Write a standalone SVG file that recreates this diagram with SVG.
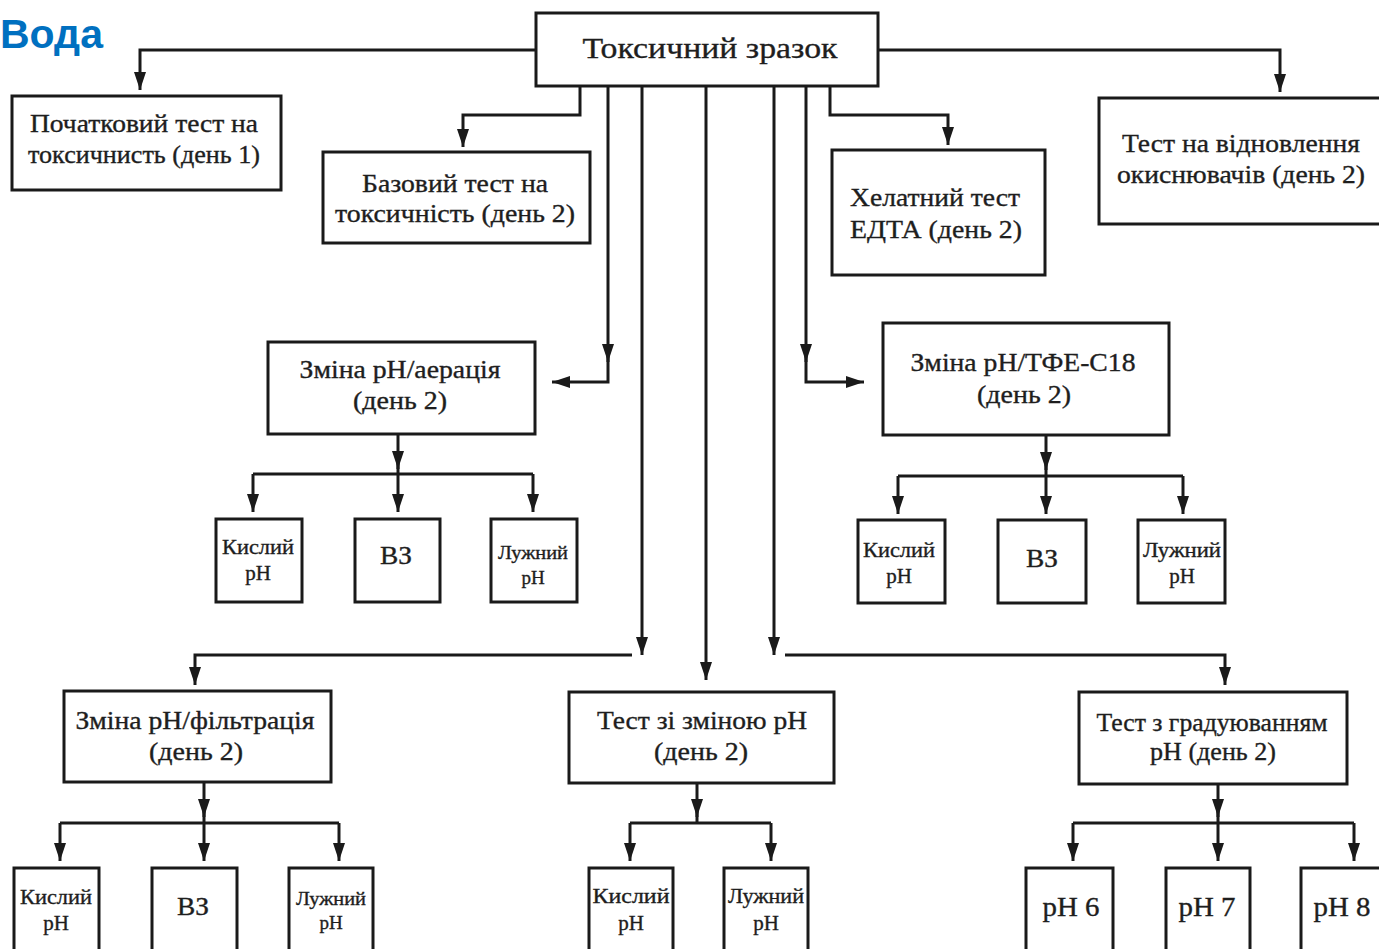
<svg xmlns="http://www.w3.org/2000/svg" width="1379" height="949" viewBox="0 0 1379 949">
<defs>
<marker id="a" viewBox="0 0 18 12" markerWidth="18" markerHeight="12" refX="18" refY="6" orient="auto" markerUnits="userSpaceOnUse">
<path d="M0,0 L18,6 L0,12 z" fill="#1a1a1a"/>
</marker>
<style>
.b{fill:#fff;stroke:#1a1a1a;stroke-width:3}
.t{font-family:"Liberation Serif","Times New Roman",serif;fill:#1e1e1e;stroke:#1e1e1e;stroke-width:0.35;text-anchor:middle}
.c path{fill:none;stroke:#1a1a1a;stroke-width:3}
.c .ar{marker-end:url(#a)}
</style>
</defs>
<rect width="1379" height="949" fill="#fff"/>
<text x="0" y="48" font-family="Liberation Sans, Arial, sans-serif" font-weight="bold" font-size="41" fill="#0070C0">Вода</text>

<g class="c" id="connectors">
<path class="ar" d="M536,50 H140 V90"/>
<path class="ar" d="M878,50 H1280 V92"/>
<path class="ar" d="M580,86 V115 H463 V147"/>
<path class="ar" d="M830,86 V115 H948 V145"/>
<path class="ar" d="M608,86 V362"/>
<path class="ar" d="M608,355 V382 H552"/>
<path class="ar" d="M806,86 V362"/>
<path class="ar" d="M806,355 V382 H864"/>
<path class="ar" d="M642,86 V655"/>
<path class="ar" d="M706,86 V680"/>
<path class="ar" d="M774,86 V655"/>
<path class="ar" d="M632,655 H195 V685"/>
<path class="ar" d="M785,655 H1225 V685"/>
<path class="ar" d="M398,434 V469"/>
<path d="M398,460 V474"/>
<path d="M253,474 H533"/>
<path class="ar" d="M253,474 V512"/>
<path class="ar" d="M398,474 V512"/>
<path class="ar" d="M533,474 V512"/>
<path class="ar" d="M1046,435 V470"/>
<path d="M1046,460 V476"/>
<path d="M898,476 H1183"/>
<path class="ar" d="M898,476 V514"/>
<path class="ar" d="M1046,476 V514"/>
<path class="ar" d="M1183,476 V514"/>
<path class="ar" d="M204,782 V817"/>
<path d="M204,810 V823"/>
<path d="M60,823 H339"/>
<path class="ar" d="M60,823 V861"/>
<path class="ar" d="M204,823 V861"/>
<path class="ar" d="M339,823 V861"/>
<path class="ar" d="M697,783 V817"/>
<path d="M697,810 V823"/>
<path d="M630,823 H771"/>
<path class="ar" d="M630,823 V861"/>
<path class="ar" d="M771,823 V861"/>
<path class="ar" d="M1218,784 V817"/>
<path d="M1218,810 V823"/>
<path d="M1073,823 H1354"/>
<path class="ar" d="M1073,823 V861"/>
<path class="ar" d="M1218,823 V861"/>
<path class="ar" d="M1354,823 V861"/>
</g>

<g id="n-main"><rect class="b" x="536" y="13" width="342" height="73"/><text class="t" x="710" y="58" font-size="30" textLength="255" lengthAdjust="spacingAndGlyphs">Токсичний зразок</text></g>
<g id="n-initial"><rect class="b" x="12" y="96" width="269" height="94"/><text class="t" x="144" y="132" font-size="25" textLength="228" lengthAdjust="spacingAndGlyphs">Початковий тест на</text><text class="t" x="144" y="163" font-size="25" textLength="232" lengthAdjust="spacingAndGlyphs">токсичнисть (день 1)</text></g>
<g id="n-base"><rect class="b" x="323" y="152" width="267" height="91"/><text class="t" x="455" y="192" font-size="25" textLength="186" lengthAdjust="spacingAndGlyphs">Базовий тест на</text><text class="t" x="455" y="222" font-size="25" textLength="240" lengthAdjust="spacingAndGlyphs">токсичність (день 2)</text></g>
<g id="n-edta"><rect class="b" x="832" y="150" width="213" height="125"/><text class="t" x="935" y="206" font-size="26" textLength="170" lengthAdjust="spacingAndGlyphs">Хелатний тест</text><text class="t" x="936" y="238" font-size="26" textLength="172" lengthAdjust="spacingAndGlyphs">ЕДТА (день 2)</text></g>
<g id="n-oxid"><rect class="b" x="1099" y="98" width="290" height="126"/><text class="t" x="1241" y="152" font-size="25" textLength="238" lengthAdjust="spacingAndGlyphs">Тест на відновлення</text><text class="t" x="1241" y="183" font-size="25" textLength="248" lengthAdjust="spacingAndGlyphs">окиснювачів (день 2)</text></g>
<g id="n-aer"><rect class="b" x="268" y="342" width="267" height="92"/><text class="t" x="400" y="378" font-size="25" textLength="201" lengthAdjust="spacingAndGlyphs">Зміна рН/аерація</text><text class="t" x="400" y="409" font-size="25" textLength="94" lengthAdjust="spacingAndGlyphs">(день 2)</text></g>
<g id="n-tfe"><rect class="b" x="883" y="323" width="286" height="112"/><text class="t" x="1023" y="371" font-size="26" textLength="225" lengthAdjust="spacingAndGlyphs">Зміна рН/ТФЕ-C18</text><text class="t" x="1024" y="403" font-size="26" textLength="94" lengthAdjust="spacingAndGlyphs">(день 2)</text></g>
<g id="n-aer-acid"><rect class="b" x="216" y="519" width="86" height="83"/><text class="t" x="258" y="554" font-size="21" textLength="72" lengthAdjust="spacingAndGlyphs">Кислий</text><text class="t" x="258" y="580" font-size="21">рН</text></g>
<g id="n-aer-vz"><rect class="b" x="355" y="519" width="85" height="83"/><text class="t" x="396" y="564" font-size="26" textLength="32" lengthAdjust="spacingAndGlyphs">ВЗ</text></g>
<g id="n-aer-alk"><rect class="b" x="491" y="519" width="86" height="83"/><text class="t" x="533" y="559" font-size="19" textLength="70" lengthAdjust="spacingAndGlyphs">Лужний</text><text class="t" x="533" y="584" font-size="19">рН</text></g>
<g id="n-tfe-acid"><rect class="b" x="858" y="520" width="87" height="83"/><text class="t" x="899" y="557" font-size="21" textLength="72" lengthAdjust="spacingAndGlyphs">Кислий</text><text class="t" x="899" y="583" font-size="21">рН</text></g>
<g id="n-tfe-vz"><rect class="b" x="998" y="520" width="88" height="83"/><text class="t" x="1042" y="567" font-size="26" textLength="32" lengthAdjust="spacingAndGlyphs">ВЗ</text></g>
<g id="n-tfe-alk"><rect class="b" x="1138" y="520" width="87" height="83"/><text class="t" x="1182" y="557" font-size="21" textLength="78" lengthAdjust="spacingAndGlyphs">Лужний</text><text class="t" x="1182" y="583" font-size="21">рН</text></g>
<g id="n-filt"><rect class="b" x="64" y="691" width="267" height="91"/><text class="t" x="195" y="729" font-size="25" textLength="239" lengthAdjust="spacingAndGlyphs">Зміна рН/фільтрація</text><text class="t" x="196" y="760" font-size="25" textLength="94" lengthAdjust="spacingAndGlyphs">(день 2)</text></g>
<g id="n-phch"><rect class="b" x="569" y="692" width="265" height="91"/><text class="t" x="702" y="729" font-size="25" textLength="210" lengthAdjust="spacingAndGlyphs">Тест зі зміною рН</text><text class="t" x="701" y="760" font-size="25" textLength="94" lengthAdjust="spacingAndGlyphs">(день 2)</text></g>
<g id="n-grad"><rect class="b" x="1079" y="692" width="268" height="92"/><text class="t" x="1212" y="731" font-size="25" textLength="231" lengthAdjust="spacingAndGlyphs">Тест з градуюванням</text><text class="t" x="1213" y="760" font-size="25" textLength="126" lengthAdjust="spacingAndGlyphs">рН (день 2)</text></g>
<g id="n-filt-acid"><rect class="b" x="14" y="868" width="85" height="90"/><text class="t" x="56" y="904" font-size="21" textLength="72" lengthAdjust="spacingAndGlyphs">Кислий</text><text class="t" x="56" y="930" font-size="21">рН</text></g>
<g id="n-filt-vz"><rect class="b" x="152" y="868" width="85" height="90"/><text class="t" x="193" y="915" font-size="26" textLength="32" lengthAdjust="spacingAndGlyphs">ВЗ</text></g>
<g id="n-filt-alk"><rect class="b" x="289" y="868" width="84" height="90"/><text class="t" x="331" y="905" font-size="19" textLength="70" lengthAdjust="spacingAndGlyphs">Лужний</text><text class="t" x="331" y="929" font-size="19">рН</text></g>
<g id="n-phch-acid"><rect class="b" x="589" y="868" width="84" height="90"/><text class="t" x="631" y="903" font-size="21" textLength="77" lengthAdjust="spacingAndGlyphs">Кислий</text><text class="t" x="631" y="930" font-size="21">рН</text></g>
<g id="n-phch-alk"><rect class="b" x="724" y="868" width="84" height="90"/><text class="t" x="766" y="903" font-size="21" textLength="76" lengthAdjust="spacingAndGlyphs">Лужний</text><text class="t" x="766" y="930" font-size="21">рН</text></g>
<g id="n-ph6"><rect class="b" x="1026" y="868" width="87" height="90"/><text class="t" x="1071" y="916" font-size="27" textLength="57" lengthAdjust="spacingAndGlyphs">рН 6</text></g>
<g id="n-ph7"><rect class="b" x="1166" y="868" width="84" height="90"/><text class="t" x="1207" y="916" font-size="27" textLength="57" lengthAdjust="spacingAndGlyphs">рН 7</text></g>
<g id="n-ph8"><rect class="b" x="1301" y="868" width="90" height="90"/><text class="t" x="1342" y="916" font-size="27" textLength="57" lengthAdjust="spacingAndGlyphs">рН 8</text></g>
</svg>
